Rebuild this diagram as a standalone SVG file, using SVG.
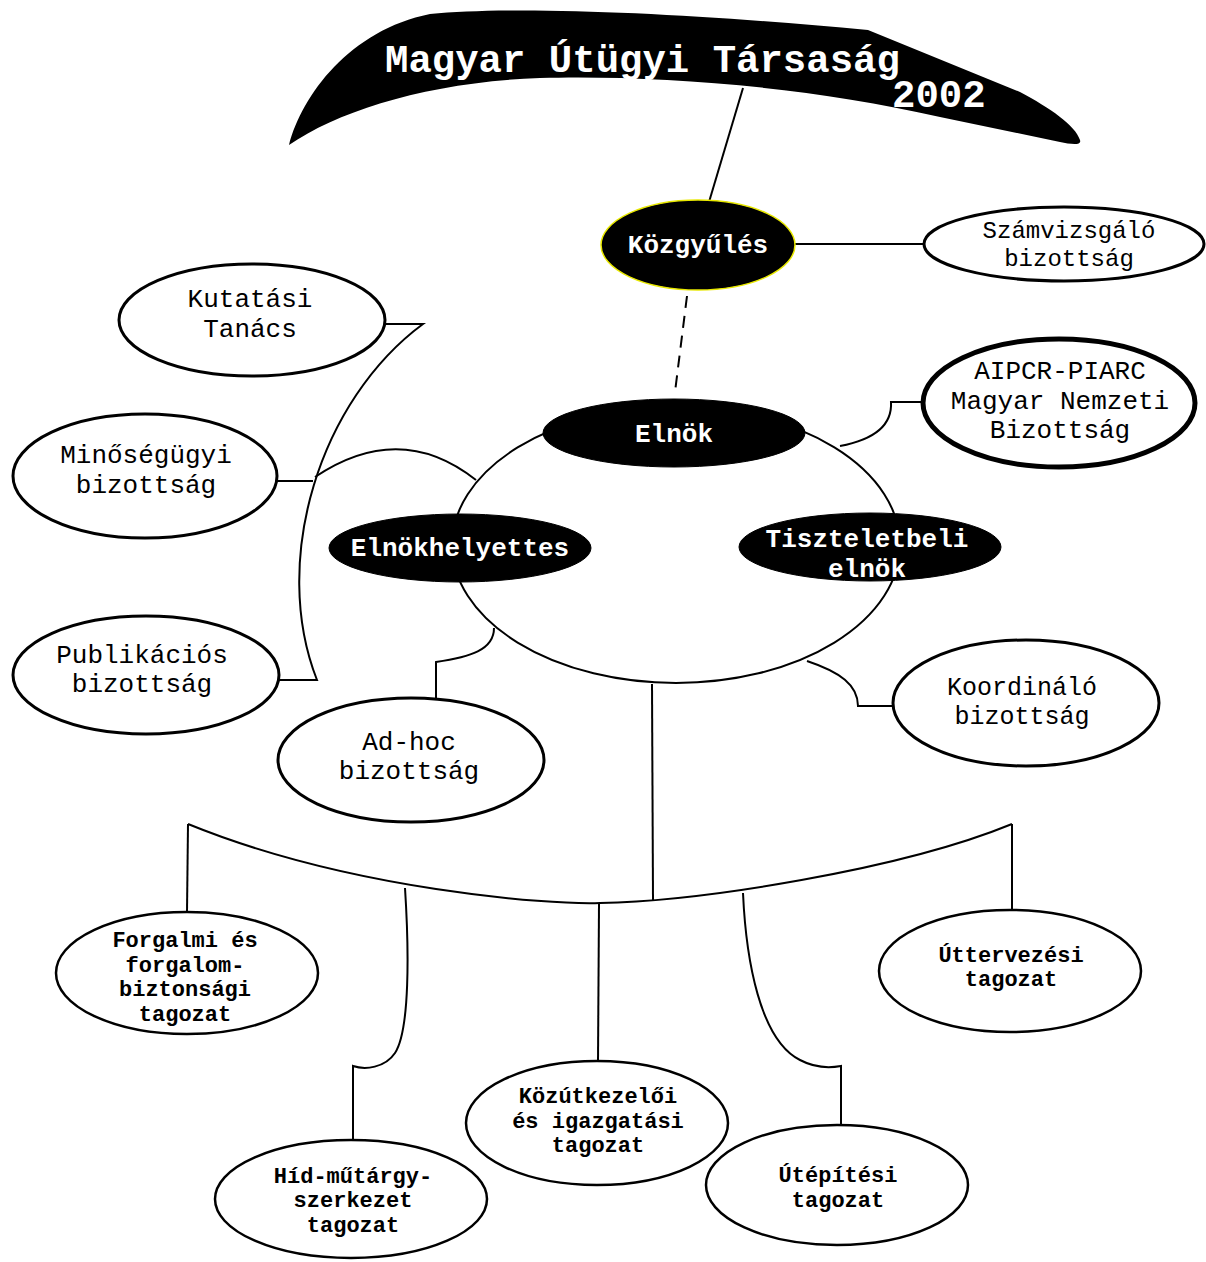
<svg xmlns="http://www.w3.org/2000/svg" width="1206" height="1262" viewBox="0 0 1206 1262">
<style>
text{font-family:"Liberation Mono","Courier New",monospace;text-anchor:middle;}
.reg{font-size:26px;fill:#000;}
.sm{font-size:24px;fill:#000;}
.bw{font-size:26px;font-weight:bold;fill:#fff;}
.tag{font-size:22px;font-weight:bold;fill:#000;}
.node{fill:#fff;stroke:#000;stroke-width:3;}
.tnode{fill:#fff;stroke:#000;stroke-width:2.5;}
.black{fill:#000;stroke:#000;stroke-width:1;}
.conn{fill:none;stroke:#000;stroke-width:2;}
</style>
<rect width="1206" height="1262" fill="#fff"/>
<g id="connectors">
<path class="conn" d="M743,88 L709,202"/>
<path class="conn" d="M687,296 L675,392" stroke-dasharray="12,8"/>
<path class="conn" d="M795,244 H924"/>
<path class="conn" d="M385,324 H423 C320,400 270,560 317,680 H279"/>
<path class="conn" d="M277,481 H313"/>
<path class="conn" d="M315,477 Q400,420 476,480"/>
<path class="conn" d="M922,402 H891 Q893,436 840,446"/>
<path class="conn" d="M807,661 C840,672 858,685 858,706 H894"/>
<path class="conn" d="M494,628 C494,650 470,657 436,662 V698"/>
<path class="conn" d="M652,684 L653,901"/>
<path class="conn" d="M188,824 C350,890 550,905 600,903 C700,901 900,870 1012,824"/>
<path class="conn" d="M188,824 L187,912"/>
<path class="conn" d="M1012,824 V910"/>
<path class="conn" d="M405,888 C409,950 410,1030 395,1053 C385,1068 365,1070 353,1066 V1140"/>
<path class="conn" d="M599,904 L598,1062"/>
<path class="conn" d="M743,893 C746,960 760,1040 800,1060 C815,1068 830,1068 841,1066 V1125"/>
</g>
<g id="banner">
<path fill="#000" d="M289,145 C302,95 350,30 430,14 C520,5 700,14 868,30 L1020,92 C1050,108 1075,125 1080,140 C1082,146 1070,144 1060,142 L940,117 C800,85 650,75 540,78 C430,82 340,110 289,145 Z"/>
<text x="385" y="72" style="text-anchor:start;font-size:39px;font-weight:bold;fill:#fff">Magyar Útügyi Társaság</text>
<text x="892" y="107" style="text-anchor:start;font-size:39px;font-weight:bold;fill:#fff">2002</text>
</g>
<g id="kozgyules">
<ellipse cx="698" cy="245" rx="97" ry="45" fill="#000" stroke="#e8e800" stroke-width="1.5"/>
<text class="bw" x="698" y="253">Közgyűlés</text>
</g>
<g id="szamvizsgalo">
<ellipse class="node" cx="1064" cy="244" rx="140" ry="37"/>
<text class="sm" x="1069" y="238">Számvizsgáló</text>
<text class="sm" x="1069" y="266">bizottság</text>
</g>
<g id="elnokseg">
<ellipse cx="676" cy="545" rx="224" ry="138" fill="#fff" stroke="#000" stroke-width="2"/>
</g>
<g id="elnok">
<ellipse class="black" cx="674" cy="433" rx="131" ry="34"/>
<text class="bw" x="674" y="442">Elnök</text>
</g>
<g id="elnokhelyettes">
<ellipse class="black" cx="460" cy="548" rx="131" ry="34"/>
<text class="bw" x="460" y="556">Elnökhelyettes</text>
</g>
<g id="tiszteletbeli">
<ellipse class="black" cx="870" cy="547" rx="131" ry="34"/>
<text class="bw" x="867" y="547">Tiszteletbeli</text>
<text class="bw" x="867" y="577">elnök</text>
</g>
<g id="kutatasi">
<ellipse class="node" cx="252" cy="320" rx="133" ry="56"/>
<text class="reg" x="250" y="307">Kutatási</text>
<text class="reg" x="250" y="337">Tanács</text>
</g>
<g id="minosegugyi">
<ellipse class="node" cx="145" cy="476" rx="132" ry="62"/>
<text class="reg" x="146" y="463">Minőségügyi</text>
<text class="reg" x="146" y="493">bizottság</text>
</g>
<g id="publikacios">
<ellipse class="node" cx="146" cy="675" rx="133" ry="59"/>
<text class="reg" x="142" y="663">Publikációs</text>
<text class="reg" x="142" y="692">bizottság</text>
</g>
<g id="aipcr">
<ellipse cx="1059" cy="403" rx="136" ry="64" fill="#fff" stroke="#000" stroke-width="5"/>
<text class="reg" x="1060" y="379">AIPCR-PIARC</text>
<text class="reg" x="1060" y="409">Magyar Nemzeti</text>
<text class="reg" x="1060" y="438">Bizottság</text>
</g>
<g id="adhoc">
<ellipse class="node" cx="411" cy="760" rx="133" ry="62"/>
<text class="reg" x="409" y="750">Ad-hoc</text>
<text class="reg" x="409" y="779">bizottság</text>
</g>
<g id="koordinalo">
<ellipse class="node" cx="1026" cy="703" rx="133" ry="63"/>
<text class="reg" x="1022" y="695" style="font-size:25px">Koordináló</text>
<text class="reg" x="1022" y="724" style="font-size:25px">bizottság</text>
</g>
<g id="forgalmi">
<ellipse class="tnode" cx="187" cy="973" rx="131" ry="61"/>
<text class="tag" x="185" y="947">Forgalmi és</text>
<text class="tag" x="185" y="972">forgalom-</text>
<text class="tag" x="185" y="996">biztonsági</text>
<text class="tag" x="185" y="1021">tagozat</text>
</g>
<g id="hid">
<ellipse class="tnode" cx="351" cy="1199" rx="136" ry="59"/>
<text class="tag" x="353" y="1183">Híd-műtárgy-</text>
<text class="tag" x="353" y="1207">szerkezet</text>
<text class="tag" x="353" y="1232">tagozat</text>
</g>
<g id="kozutkezeloi">
<ellipse class="tnode" cx="597" cy="1123" rx="131" ry="62"/>
<text class="tag" x="598" y="1103">Közútkezelői</text>
<text class="tag" x="598" y="1128">és igazgatási</text>
<text class="tag" x="598" y="1152">tagozat</text>
</g>
<g id="utepitesi">
<ellipse class="tnode" cx="837" cy="1185" rx="131" ry="60"/>
<text class="tag" x="838" y="1182">Útépítési</text>
<text class="tag" x="838" y="1207">tagozat</text>
</g>
<g id="uttervezesi">
<ellipse class="tnode" cx="1010" cy="971" rx="131" ry="61"/>
<text class="tag" x="1011" y="962">Úttervezési</text>
<text class="tag" x="1011" y="986">tagozat</text>
</g>
</svg>
